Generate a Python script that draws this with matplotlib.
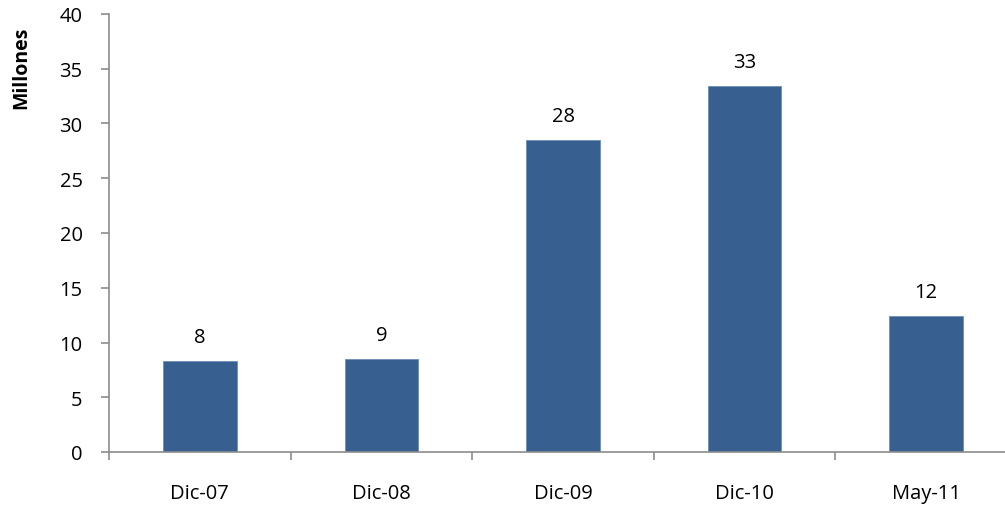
import numpy as np
import matplotlib.pyplot as plt

plt.rcParams['font.family'] = ['Open Sans', 'DejaVu Sans']

periodos = ["Dic-07", "Dic-08", "Dic-09", "Dic-10", "May-11"]
montos = [8.3, 8.5, 28.5, 33.4, 12.4]
etiquetas = ["8", "9", "28", "33", "12"]

fig = plt.figure(figsize=(10.05, 5.06), dpi=100)
ax = fig.add_axes([109 / 1005, 1 - 453 / 506, 908 / 1005, 438 / 506])

x = np.arange(len(periodos))
barras = ax.bar(x, montos, width=0.405, color="#375F8F", edgecolor="#6E8DB5",
                linewidth=0.6, zorder=2)

for b, txt in zip(barras, etiquetas):
    ax.annotate(txt, (b.get_x() + b.get_width() / 2, b.get_height()),
                xytext=(0, 10), textcoords="offset points",
                ha="center", va="bottom", fontsize=14.5)

ax.set_xlim(-0.5, len(periodos) - 0.5)
ax.set_ylim(0, 40)
ax.set_yticks(np.arange(0, 41, 5))

# ticks at category boundaries, labels centred under the bars
ax.set_xticks(np.arange(-0.5, len(periodos), 1))
ax.set_xticklabels([])
ax.set_xticks(x, minor=True)
ax.set_xticklabels(periodos, minor=True)
ax.tick_params(axis="x", which="major", length=6, color="#8C8C8C", width=1.2)
ax.tick_params(axis="x", which="minor", length=0, pad=22, labelsize=14.5)
ax.tick_params(axis="y", length=6, color="#8C8C8C", width=1.2, pad=13, labelsize=14.5)

for s in ["top", "right"]:
    ax.spines[s].set_visible(False)
for s in ["left", "bottom"]:
    ax.spines[s].set_color("#8C8C8C")
    ax.spines[s].set_linewidth(1.2)

fig.text(21 / 1005, 1 - 68 / 506, "Millones", rotation=90, ha="center", va="center",
         fontsize=14, fontweight="bold")

fig.savefig("out.png", dpi=100)
